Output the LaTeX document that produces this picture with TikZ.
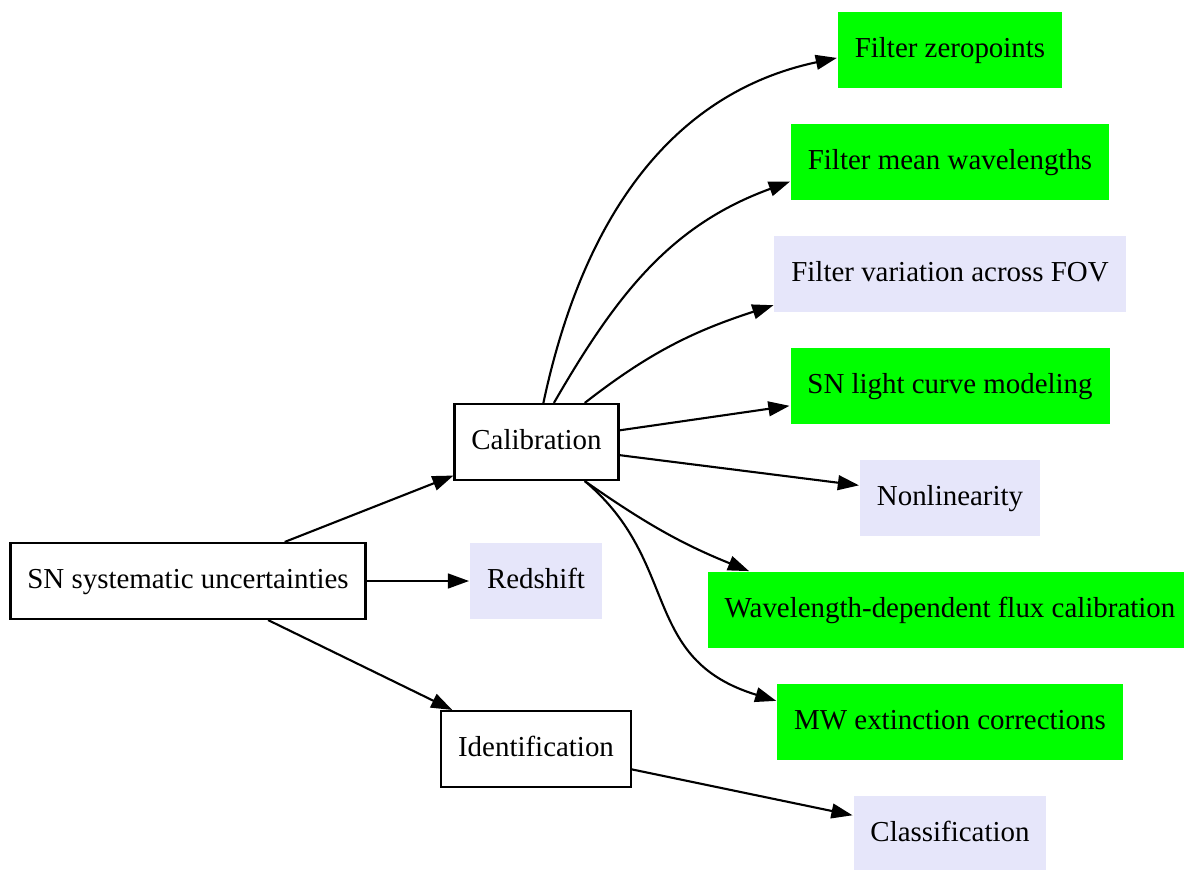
\documentclass[tikz,border=0pt]{standalone}
\usepackage{fontspec}
\setmainfont{Liberation Serif}
\usetikzlibrary{arrows.meta}
\definecolor{lav}{HTML}{E6E6FA}
\definecolor{grn}{HTML}{00FF00}
\tikzset{>={Triangle[length=10pt,width=7pt]}}

\begin{document}
\begin{tikzpicture}[
    x=0.01665cm, y=0.01665cm,
    node distance=1.865cm,
    every node/.style={rectangle, align=center, minimum height=36pt, minimum width=54pt,
        inner xsep=8pt, text height=10pt, text depth=3pt, font=\fontsize{13.7}{17}\selectfont},
    plain/.style={draw, line width=1pt, fill=white},
    done/.style={fill=grn},
    todo/.style={fill=lav},
    line width=1pt
]
    \useasboundingbox (0,0) rectangle (1184,-869);

    % Nodes
    \node (SN) [plain] at (188,-581) {SN systematic uncertainties};
    \node (Calib) [plain] at (536.5,-442) {Calibration};
    \node (Redshift) [todo] at (536,-581) {Redshift};
    \node (Ident) [plain] at (536,-749) {Identification};

    \node (Zero) [done] at (950,-50) {Filter zeropoints};
    \node (Mean) [below of=Zero, done] {Filter mean wavelengths};
    \node (FOV) [below of=Mean, todo] {Filter variation across FOV};
    \node (Curve) [below of=FOV, done] {SN light curve modeling};
    \node (Nonlin) [below of=Curve, todo] {Nonlinearity};
    \node (Flux) [below of=Nonlin, done] {Wavelength-dependent flux calibration};
    \node (MW) [below of=Flux, done] {MW extinction corrections};
    \node (Class) [below of=MW, todo] {Classification};

    % Arrows
    \draw[->] (SN.22) -- (Calib.202);
    \draw[->] (SN) -- (Redshift);
    \draw[->] (SN.-26) -- (Ident.155);

    \draw[->] (Calib.80) to[out=78, in=192] (Zero.184);
    \draw[->] (Calib.66) to[out=60, in=200] (Mean.187);
    \draw[->] (Calib.39) to[out=38, in=198] (FOV.190);
    \draw[->] (Calib.8) -- (Curve.187);
    \draw[->] (Calib.-9) -- (Nonlin.172);
    \draw[->] (Calib.-39) to[out=-35, in=158] (Flux.169);
    \draw[->] (Calib.-39) .. controls +(-40:126) and +(163:143) .. (MW.173);

    \draw[->] (Ident.-12) -- (Class.169);
\end{tikzpicture}
\end{document}
